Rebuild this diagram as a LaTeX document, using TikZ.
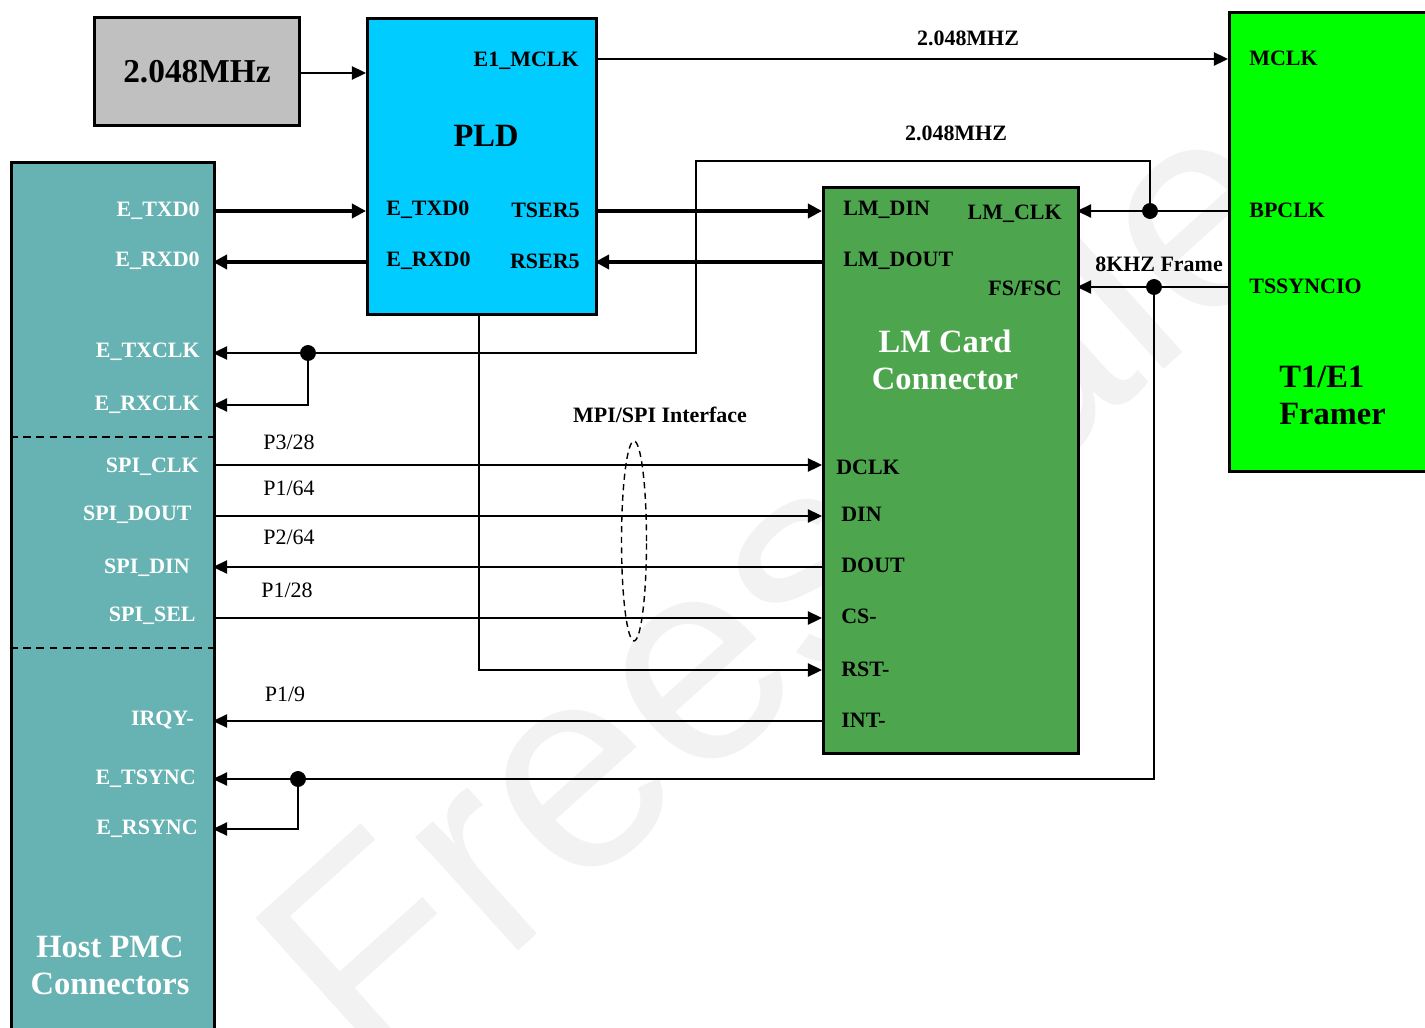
\documentclass[tikz,border=0pt]{standalone}
\usepackage{fontspec}
\setmainfont{Liberation Serif}
\newfontfamily\wmfont{Liberation Sans}
\usetikzlibrary{arrows.meta}

\definecolor{clkgray}{HTML}{C0C0C0}
\definecolor{pldblue}{HTML}{00CCFF}
\definecolor{hostteal}{HTML}{67B3B3}
\definecolor{lmgreen}{HTML}{4DA64D}
\definecolor{framergreen}{HTML}{00FF00}
\definecolor{wmgray}{HTML}{F2F2F2}

\tikzset{
  block/.style={draw, line width=1.7pt, anchor=north west, inner sep=0pt},
  pin/.style={font=\fontsize{12.5}{14}\selectfont\bfseries, inner sep=0pt},
  hpin/.style={pin, text=white, anchor=east},
  lpin/.style={pin, anchor=west},
  rpin/.style={pin, anchor=east},
  title/.style={font=\fontsize{18.5}{21}\selectfont\bfseries, align=center, inner sep=0pt},
  plabel/.style={font=\fontsize{12.5}{14}\selectfont, inner sep=0pt},
  wire/.style={line width=1pt, -{Triangle[length=8pt,width=7.5pt]}},
  bus/.style={line width=2.8pt, -{Triangle[length=8pt,width=8pt]}},
  split/.style={dashed, line width=1pt, dash pattern=on 4.5pt off 3pt},
}

\begin{document}
\begin{tikzpicture}[x=0.02cm, y=-0.02cm]
    \clip (0,0) rectangle (1425,1027);

    % Watermark (behind everything)
    \node[font=\wmfont\fontsize{165}{165}\selectfont, text=wmgray, rotate=42] (wm) at (775,580) {Freescale};

    % Blocks
    \node[block, fill=clkgray, minimum width=4.1cm, minimum height=2.16cm] (clk) at (93,16) {};
    \node[block, fill=pldblue, minimum width=4.58cm, minimum height=5.92cm] (pld) at (366,17) {};
    \node[block, fill=hostteal, minimum width=4.06cm, minimum height=17.8cm] (host) at (10,161) {};
    \node[block, fill=lmgreen, minimum width=5.1cm, minimum height=11.32cm] (lm) at (822,186) {};
    \node[block, fill=framergreen, minimum width=4.6cm, minimum height=9.18cm] (framer) at (1228,11) {};

    % Block titles
    \node[title, font=\fontsize{19}{21}\selectfont\bfseries] (clkname) at (clk.center) {2.048MHz};
    \node[title] (pldname) at (486,136) {PLD};
    \node[title, text=white] (lmname) at (945,360) {LM Card\\Connector};
    \node[title, align=left, anchor=west] (framername) at (1279,395) {T1/E1\\Framer};
    \node[title, text=white] (hostname) at (110,965) {Host PMC\\Connectors};

    % Host pins
    \node[hpin] (hTXDn) at (200,211) {E\_TXD0};
    \node[hpin] (hRXDn) at (200,261) {E\_RXD0};
    \node[hpin] (hTXCLKn) at (200,352) {E\_TXCLK};
    \node[hpin] (hRXCLKn) at (200,405) {E\_RXCLK};
    \node[hpin] (hSCLKn) at (199,467) {SPI\_CLK};
    \node[hpin] (hSDOUTn) at (192,515) {SPI\_DOUT};
    \node[hpin] (hSDINn) at (190,568) {SPI\_DIN};
    \node[hpin] (hSSELn) at (196,616) {SPI\_SEL};
    \node[hpin] (hIRQn) at (194,720) {IRQY-};
    \node[hpin] (hTSYNCn) at (196,779) {E\_TSYNC};
    \node[hpin] (hRSYNCn) at (198,829) {E\_RSYNC};

    % PLD pins
    \node[rpin] (pMCLKn) at (579,61) {E1\_MCLK};
    \node[lpin] (pTXDn) at (386,210) {E\_TXD0};
    \node[rpin] (pTSERn) at (580,210) {TSER5};
    \node[lpin] (pRXDn) at (386,261) {E\_RXD0};
    \node[rpin] (pRSERn) at (580,261) {RSER5};

    % LM card pins
    \node[lpin] (lDINn) at (843,210) {LM\_DIN};
    \node[rpin] (lCLKn) at (1062,214) {LM\_CLK};
    \node[lpin] (lDOUTn) at (843,261) {LM\_DOUT};
    \node[rpin] (lFSn) at (1062,288) {FS/FSC};
    \node[lpin] (lDCLKn) at (836,467) {DCLK};
    \node[lpin] (lDIn) at (841,514) {DIN};
    \node[lpin] (lDOn) at (841,565) {DOUT};
    \node[lpin] (lCSn) at (841,616) {CS-};
    \node[lpin] (lRSTn) at (841,669) {RST-};
    \node[lpin] (lINTn) at (841,720) {INT-};

    % Framer pins
    \node[lpin] (fMCLKn) at (1249,58) {MCLK};
    \node[lpin] (fBPCLKn) at (1249,210) {BPCLK};
    \node[lpin] (fTSSn) at (1249,286) {TSSYNCIO};

    % Pin points on the block edges
    \coordinate (clkOut) at (298,73);   \coordinate (pCLK) at (366,73);
    \coordinate (pMCLK) at (595,59);    \coordinate (fMCLK) at (1228,59);
    \coordinate (hTXD) at (213,211);    \coordinate (pTXD) at (366,211);
    \coordinate (hRXD) at (213,262);    \coordinate (pRXD) at (366,262);
    \coordinate (pTSER) at (595,211);   \coordinate (lDIN) at (822,211);
    \coordinate (pRSER) at (595,262);   \coordinate (lDOUT) at (822,262);
    \coordinate (fBPCLK) at (1228,211); \coordinate (lCLK) at (1077,211);
    \coordinate (fTSS) at (1228,287);   \coordinate (lFS) at (1077,287);
    \coordinate (hTXCLK) at (213,353);  \coordinate (hRXCLK) at (213,405);
    \coordinate (hTSYNC) at (213,779);  \coordinate (hRSYNC) at (213,829);
    \coordinate (hSCLK) at (213,465);   \coordinate (lDCLK) at (822,465);
    \coordinate (hSDOUT) at (213,516);  \coordinate (lDI) at (822,516);
    \coordinate (hSDIN) at (213,567);   \coordinate (lDO) at (822,567);
    \coordinate (hSSEL) at (213,618);   \coordinate (lCS) at (822,618);
    \coordinate (pRST) at (479,313);    \coordinate (lRST) at (822,670);
    \coordinate (hIRQ) at (213,721);    \coordinate (lINT) at (822,721);

    % Junctions and bends
    \coordinate (jB) at (1150,211);
    \coordinate (bend) at (696,161);
    \coordinate (jT) at (308,353);
    \coordinate (jF) at (1154,287);
    \coordinate (jS) at (298,779);

    % Clock wires
    \draw[wire] (clkOut) -- (pCLK);
    \draw[wire] (pMCLK) -- (fMCLK);
    \node[pin] (mhz1) at (968,38) {2.048MHZ};

    % Data buses
    \draw[bus] (hTXD) -- (pTXD);
    \draw[bus] (pRXD) -- (hRXD);
    \draw[bus] (pTSER) -- (lDIN);
    \draw[bus] (lDOUT) -- (pRSER);

    % BPCLK to LM card and host clocks
    \draw[wire] (fBPCLK) -- (lCLK);
    \draw[wire] (jB) |- (bend) |- (hTXCLK);
    \draw[wire] (jT) |- (hRXCLK);
    \node[pin] (mhz2) at (956,133) {2.048MHZ};

    % Frame sync
    \draw[wire] (fTSS) -- (lFS);
    \draw[wire] (jF) |- (hTSYNC);
    \draw[wire] (jS) |- (hRSYNC);
    \node[pin] (frame) at (1159,264) {8KHZ Frame};

    % MPI/SPI interface
    \draw[wire] (hSCLK) -- (lDCLK);
    \draw[wire] (hSDOUT) -- (lDI);
    \draw[wire] (lDO) -- (hSDIN);
    \draw[wire] (hSSEL) -- (lCS);
    \draw[wire] (pRST) |- (lRST);
    \draw[wire] (lINT) -- (hIRQ);
    \draw[dashed, line width=0.8pt, dash pattern=on 3.5pt off 2.5pt] (634,541) ellipse (0.25cm and 2cm);
    \node[pin] (mpi) at (660,415) {MPI/SPI Interface};

    % Connector pin numbers
    \node[plabel] (p328) at (289,442) {P3/28};
    \node[plabel] (p164) at (289,488) {P1/64};
    \node[plabel] (p264) at (289,537) {P2/64};
    \node[plabel] (p128) at (287,590) {P1/28};
    \node[plabel] (p19) at (285,694) {P1/9};

    % Dividers in the host block
    \draw[split] (10,437) -- (213,437);
    \draw[split] (10,648) -- (213,648);

    % Junction dots
    \filldraw (jB) circle (4.3pt);
    \filldraw (jT) circle (4.3pt);
    \filldraw (jF) circle (4.3pt);
    \filldraw (jS) circle (4.3pt);
\end{tikzpicture}
\end{document}
